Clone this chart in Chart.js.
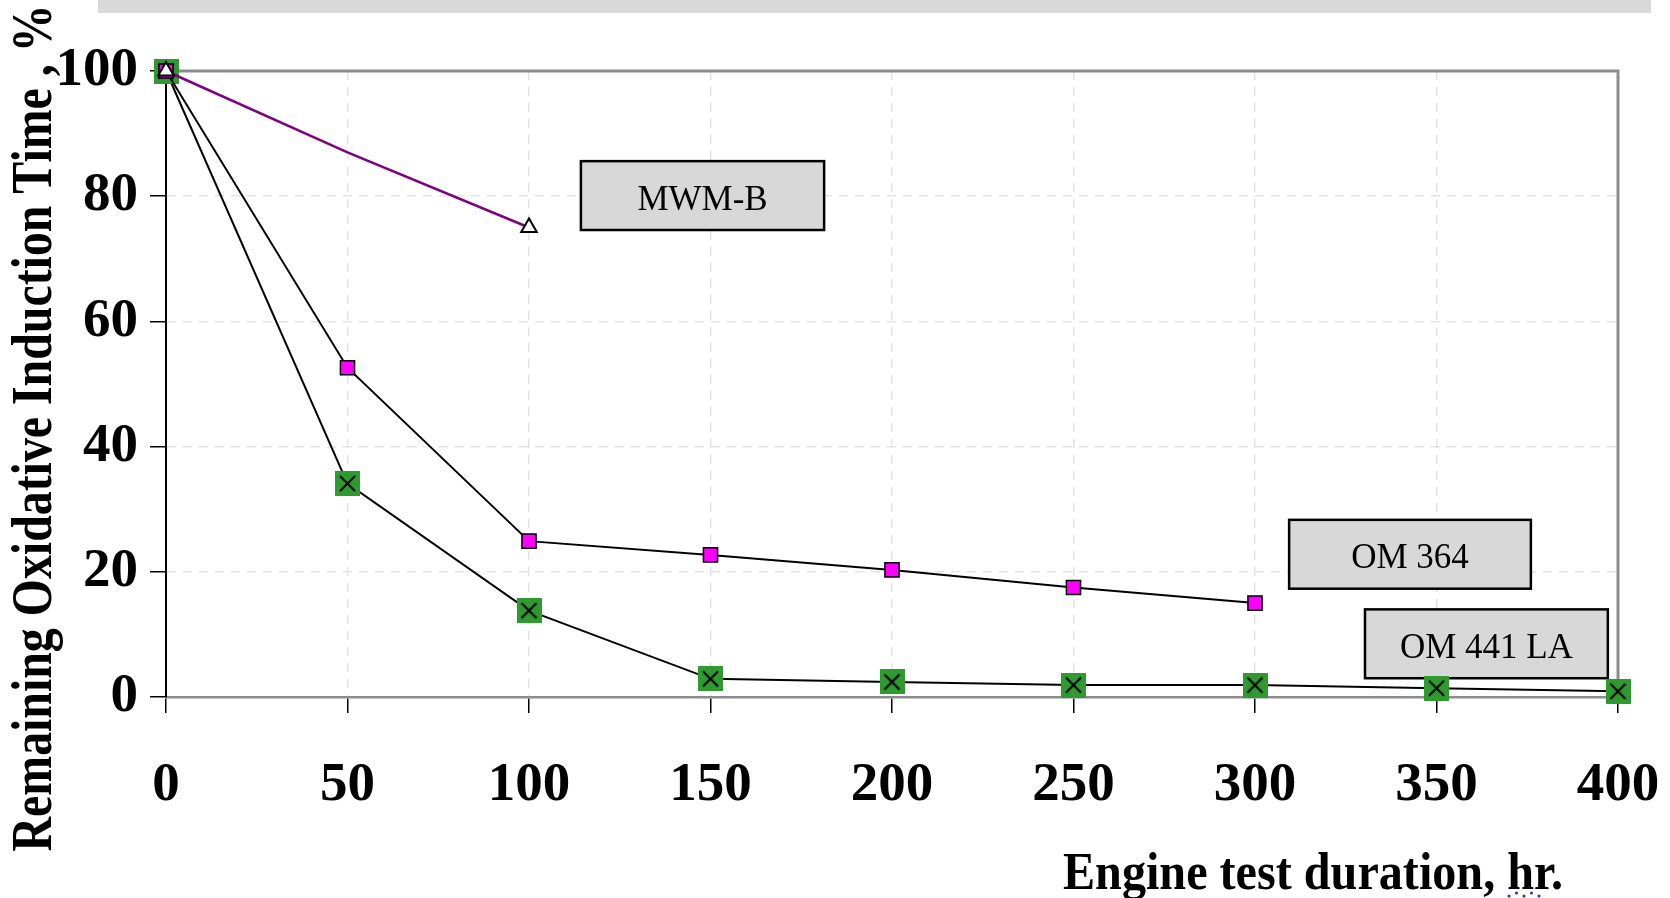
<!DOCTYPE html>
<html>
<head>
<meta charset="utf-8">
<script src="https://cdn.jsdelivr.net/npm/chart.js@4.4.0/dist/chart.umd.min.js"></script>
<style>
  html, body { margin: 0; padding: 0; background: #fff; }
</style>
</head>
<body>
<canvas id="chart1" width="1670" height="898"></canvas>
<script>
// data
const hours = [0, 50, 100, 150, 200, 250, 300, 350, 400];
const mwmB = [100, 87, 75];
const om364 = [100, 52.6, 24.9, 22.7, 20.3, 17.5, 15.0];
const om441 = [100, 34.1, 13.8, 2.9, 2.4, 1.9, 1.9, 1.4, 0.9];
const yTicks = [0, 20, 40, 60, 80, 100];
const names = ['MWM-B', 'OM 364', 'OM 441 LA'];

// label boxes, in data units: x from, x to, y top, y bottom
const boxPos = [
  [114.3, 181.3, 85.6, 74.6],
  [309.4, 376.0, 28.3, 17.3],
  [330.3, 397.2, 14.0, 3.0]
];

function pairs(vals) {
  return vals.map((v, i) => ({x: hours[i], y: v}));
}

// green square with a black cross
function crossSquare() {
  const c = document.createElement('canvas');
  c.width = 25; c.height = 25;
  const g = c.getContext('2d');
  g.fillStyle = '#2f9a2f';
  g.fillRect(0, 0, 25, 25);
  g.strokeStyle = '#000';
  g.lineWidth = 2;
  g.beginPath();
  g.moveTo(5, 5); g.lineTo(20, 20);
  g.moveTo(20, 5); g.lineTo(5, 20);
  g.stroke();
  return c;
}

const extras = {
  id: 'extras',
  beforeDatasetsDraw(chart) {
    const {ctx, chartArea: a, scales: {x, y}} = chart;
    ctx.save();
    ctx.strokeStyle = '#8c8c8c';
    ctx.lineWidth = 3;
    ctx.beginPath();
    ctx.moveTo(a.left, a.top);
    ctx.lineTo(a.right, a.top);
    ctx.lineTo(a.right, a.bottom);
    ctx.stroke();

    ctx.font = '35px "Liberation Serif"';
    ctx.textAlign = 'center';
    ctx.textBaseline = 'middle';
    boxPos.forEach((b, i) => {
      const x1 = x.getPixelForValue(b[0]), x2 = x.getPixelForValue(b[1]);
      const y1 = y.getPixelForValue(b[2]), y2 = y.getPixelForValue(b[3]);
      ctx.fillStyle = '#d8d8d8';
      ctx.fillRect(x1, y1, x2 - x1, y2 - y1);
      ctx.strokeStyle = '#000';
      ctx.lineWidth = 2.5;
      ctx.strokeRect(x1, y1, x2 - x1, y2 - y1);
      ctx.fillStyle = '#000';
      ctx.fillText(names[i], (x1 + x2) / 2, (y1 + y2) / 2 + 5);
    });
    ctx.restore();
  },
  afterDraw(chart) {
    const ctx = chart.ctx;
    ctx.save();
    // grey banner cut off at the top
    ctx.fillStyle = '#d9d9d9';
    ctx.fillRect(98, 0, 1553, 13);

    ctx.fillStyle = '#000';
    ctx.font = 'bold 57px "Liberation Serif"';
    ctx.textBaseline = 'alphabetic';
    ctx.textAlign = 'center';

    // y title, squeezed to its length in the picture
    const yt = 'Remaining Oxidative Induction Time , %';
    let w = ctx.measureText(yt).width;
    ctx.save();
    ctx.translate(51, 428);
    ctx.rotate(-Math.PI / 2);
    ctx.scale(847 / w, 1);
    ctx.fillText(yt, 0, 0);
    ctx.restore();

    // x title
    const xt = 'Engine test duration, hr.';
    ctx.font = 'bold 52px "Liberation Serif"';
    w = ctx.measureText(xt).width;
    ctx.save();
    ctx.translate(1313, 889);
    ctx.scale(500 / w, 1);
    ctx.fillText(xt, 0, 0);
    ctx.restore();

    // spell-check dots under "hr"
    ctx.fillStyle = '#3a3a9a';
    for (let i = 0; i < 5; i++) {
      ctx.beginPath();
      ctx.arc(1509 + i * 7.5, i % 2 ? 893 : 896, 1.6, 0, Math.PI * 2);
      ctx.fill();
    }
    ctx.restore();
  }
};

const tickFont = {family: 'Liberation Serif', size: 55, weight: 'bold'};

new Chart(document.getElementById('chart1'), {
  type: 'line',
  data: {
    datasets: [{
      label: names[0],
      data: pairs(mwmB),
      borderColor: '#800080',
      borderWidth: 2.5,
      pointStyle: 'triangle',
      pointRadius: [9, 0, 9],
      pointBackgroundColor: '#fff',
      pointBorderColor: '#000',
      pointBorderWidth: 2
    }, {
      label: names[1],
      data: pairs(om364),
      borderColor: '#000',
      borderWidth: 2,
      pointStyle: 'rect',
      pointRadius: 10,
      pointBackgroundColor: '#ff00ff',
      pointBorderColor: '#000',
      pointBorderWidth: 1.5
    }, {
      label: names[2],
      data: pairs(om441),
      borderColor: '#000',
      borderWidth: 2,
      pointStyle: crossSquare(),
      pointRadius: 12
    }]
  },
  options: {
    responsive: false,
    animation: false,
    clip: false,
    layout: {padding: {left: 0, top: 71, right: 52, bottom: 0}},
    plugins: {legend: {display: false}, tooltip: {enabled: false}},
    elements: {line: {tension: 0}},
    scales: {
      x: {
        type: 'linear',
        min: 0,
        max: 400,
        afterBuildTicks: s => { s.ticks = hours.map(v => ({value: v})); },
        afterFit: s => { s.height = 201; s.paddingLeft = 0; s.paddingRight = 0; },
        ticks: {font: tickFont, color: '#000', padding: 40, maxRotation: 0},
        grid: {color: '#e3e3e3', lineWidth: 1.5, tickColor: '#000', tickLength: 16, tickWidth: 1.5},
        border: {color: '#8c8c8c', width: 2.5, dash: [9, 7]}
      },
      y: {
        min: 0,
        max: 100,
        afterBuildTicks: s => { s.ticks = yTicks.map(v => ({value: v})); },
        afterFit: s => { s.width = 166; s.paddingTop = 0; s.paddingBottom = 0; },
        ticks: {font: tickFont, color: '#000', padding: 12},
        grid: {color: '#e3e3e3', lineWidth: 1.5, tickColor: '#000', tickLength: 16, tickWidth: 1.5},
        border: {color: '#000', width: 2, dash: [9, 7]}
      }
    }
  },
  plugins: [extras]
});
</script>
</body>
</html>
